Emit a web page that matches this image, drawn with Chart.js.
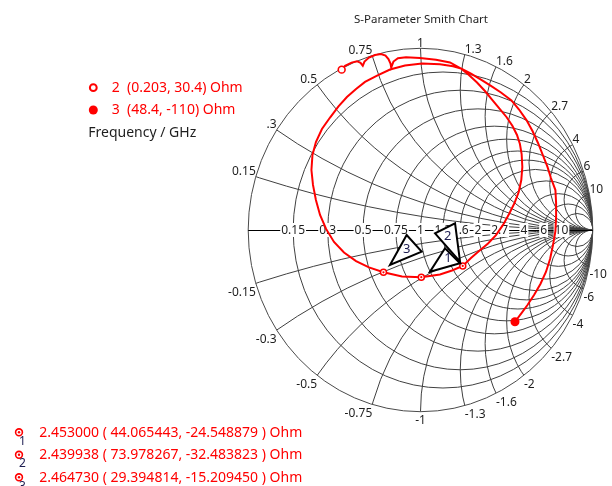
<!DOCTYPE html>
<html>
<head>
<meta charset="utf-8">
<script src="https://cdn.jsdelivr.net/npm/chart.js@4.4.1/dist/chart.umd.min.js"></script>
<style>
  html, body { margin: 0; padding: 0; background: #fff; }
  #wrap { width: 612px; height: 486px; position: relative; }
</style>
</head>
<body>
<div id="wrap"><canvas id="c" width="612" height="486"></canvas></div>
<script>
// Reference impedance
const Z0 = 50;

// Smith grid: constant-resistance circles and constant-reactance arcs (normalised)
const resistanceCircles = [0.15, 0.3, 0.5, 0.75, 1, 1.3, 1.6, 2, 2.7, 4, 6, 10];
const resistanceLabels  = ['0.15', '0.3', '0.5', '0.75', '1', '1.3', '1.6', '2', '2.7', '4', '6', '10'];
const reactanceArcs     = [0.15, 0.3, 0.5, 0.75, 1, 1.3, 1.6, 2, 2.7, 4, 6, 10];
const reactanceLabels   = ['0.15', '0.3', '0.5', '0.75', '1', '1.3', '1.6', '2', '2.7', '4', '6', '10'];

// Swept S11, reflection coefficient (real / imaginary part)
const s11Re = [-0.4575, -0.438, -0.400, -0.369, -0.348, -0.335, -0.325, -0.299, -0.264, -0.229,
  -0.203, -0.186, -0.174, -0.170, -0.157, -0.131, -0.084, -0.003, 0.090, 0.171,
  0.235, 0.281, 0.328, 0.374, 0.415, 0.456, 0.499, 0.534, 0.560, 0.577,
  0.587, 0.591, 0.585, 0.570, 0.546, 0.514, 0.479, 0.438, 0.392, 0.340,
  0.293, 0.2452, 0.183, 0.113, 0.0046, -0.107, -0.215, -0.299, -0.374, -0.444,
  -0.502, -0.548, -0.583, -0.607, -0.624, -0.633, -0.627, -0.607, -0.572, -0.525,
  -0.476, -0.427, -0.374, -0.322, -0.252, -0.177, -0.090, 0.009, 0.113, 0.189,
  0.235, 0.293, 0.351, 0.409, 0.467, 0.528, 0.572, 0.615, 0.650, 0.682,
  0.711, 0.737, 0.757, 0.783, 0.787, 0.787, 0.783, 0.769, 0.752, 0.728,
  0.696, 0.659, 0.621, 0.583, 0.5483];
const s11Im = [0.8826, 0.903, 0.921, 0.929, 0.920, 0.904, 0.927, 0.949, 0.963, 0.968,
  0.960, 0.941, 0.916, 0.894, 0.927, 0.945, 0.951, 0.946, 0.937, 0.922,
  0.889, 0.853, 0.812, 0.765, 0.718, 0.671, 0.622, 0.572, 0.523, 0.473,
  0.418, 0.347, 0.275, 0.209, 0.149, 0.088, 0.028, -0.028, -0.074, -0.116,
  -0.154, -0.1978, -0.223, -0.245, -0.2599, -0.256, -0.2328, -0.206, -0.171, -0.124,
  -0.066, 0.006, 0.083, 0.165, 0.248, 0.330, 0.413, 0.484, 0.556, 0.619,
  0.680, 0.732, 0.776, 0.815, 0.850, 0.883, 0.905, 0.916, 0.912, 0.901,
  0.889, 0.860, 0.828, 0.793, 0.757, 0.713, 0.663, 0.605, 0.545, 0.479,
  0.410, 0.347, 0.286, 0.220, 0.149, 0.072, -0.006, -0.083, -0.160, -0.231,
  -0.297, -0.358, -0.413, -0.462, -0.505];

// Sweep end points (Ohm)
const endpointIds = ['2', '3'];
const endpointR = [0.203, 48.4];
const endpointX = [30.4, -110];

// Markers: frequency (GHz) and impedance (Ohm)
const markerIds = ['1', '2', '3'];
const markerFreqGHz = [2.453000, 2.439938, 2.464730];
const markerR = [44.065443, 73.978267, 29.394814];
const markerX = [-24.548879, -32.483823, -15.209450];

const RED = '#ff0000';
const INK = '#1e1e1e';
const NAVY = '#1c1c50';
const FONT = '"Noto Sans", "DejaVu Sans", sans-serif';

// Z (Ohm) -> reflection coefficient
function ohmToGamma(R, X) {
  const r = R / Z0, x = X / Z0;
  const d = (r + 1) * (r + 1) + x * x;
  return { x: (r * r + x * x - 1) / d, y: (2 * x) / d };
}

const tracePts = s11Re.map((re, i) => ({ x: re, y: s11Im[i] }));
const startPt = ohmToGamma(endpointR[0], endpointX[0]);
const endPt = ohmToGamma(endpointR[1], endpointX[1]);
const markerPts = markerR.map((r, i) => ohmToGamma(r, markerX[i]));

function mappers(chart) {
  const sx = chart.scales.x, sy = chart.scales.y;
  return {
    px: v => sx.getPixelForValue(v),
    py: v => sy.getPixelForValue(v),
    kx: sx.getPixelForValue(1) - sx.getPixelForValue(0),
    ky: sy.getPixelForValue(0) - sy.getPixelForValue(1)
  };
}

// Grid, rim, real axis and scale numbers
const smithGrid = {
  id: 'smithGrid',
  beforeDatasetsDraw(chart) {
    const ctx = chart.ctx;
    const { px, py, kx, ky } = mappers(chart);
    const TAU = Math.PI * 2;

    ctx.save();
    ctx.beginPath();
    ctx.ellipse(px(0), py(0), kx, ky, 0, 0, TAU);
    ctx.clip();
    ctx.strokeStyle = '#404040';
    ctx.lineWidth = 1;
    resistanceCircles.forEach(r => {
      const c = r / (1 + r), rad = 1 / (1 + r);
      ctx.beginPath();
      ctx.ellipse(px(c), py(0), rad * kx, rad * ky, 0, 0, TAU);
      ctx.stroke();
    });
    reactanceArcs.forEach(x => {
      [x, -x].forEach(v => {
        const rad = 1 / Math.abs(v);
        ctx.beginPath();
        ctx.ellipse(px(1), py(1 / v), rad * kx, rad * ky, 0, 0, TAU);
        ctx.stroke();
      });
    });
    ctx.restore();

    // outer rim
    ctx.save();
    ctx.strokeStyle = '#4a4a4a';
    ctx.lineWidth = 1;
    ctx.beginPath();
    ctx.ellipse(px(0), py(0), kx, ky, 0, 0, TAU);
    ctx.stroke();
    // real axis
    ctx.strokeStyle = '#000';
    ctx.beginPath();
    ctx.moveTo(px(-1), Math.round(py(0)) + 0.5);
    ctx.lineTo(px(1), Math.round(py(0)) + 0.5);
    ctx.stroke();

    ctx.font = '12px ' + FONT;
    // resistance numbers on the real axis, on white boxes
    resistanceCircles.forEach((r, i) => {
      const g = (r - 1) / (r + 1);
      const x = px(g), y = py(0);
      const t = resistanceLabels[i];
      const w = ctx.measureText(t).width;
      ctx.fillStyle = '#fff';
      ctx.fillRect(x - w / 2 - 1, y - 7, w + 2, 14);
      ctx.fillStyle = INK;
      ctx.textAlign = 'center';
      ctx.textBaseline = 'middle';
      ctx.fillText(t, x, y + 0.5);
    });
    // reactance numbers around the rim
    reactanceArcs.forEach((xv, i) => {
      [1, -1].forEach(sgn => {
        const v = xv * sgn;
        const gr = (v * v - 1) / (v * v + 1), gi = 2 * v / (v * v + 1);
        const X = px(gr), Y = py(gi);
        const t = (sgn < 0 ? '-' : '') + reactanceLabels[i];
        ctx.textAlign = Math.abs(gr) < 0.01 ? 'center' : (gr < 0 ? 'right' : 'left');
        ctx.textBaseline = 'alphabetic';
        ctx.fillStyle = INK;
        ctx.fillText(t, X, sgn > 0 ? Y - 1.5 : Y + 12.5);
      });
    });
    ctx.restore();
  }
};

// Marker callouts, legends and the title
const annotations = {
  id: 'annotations',
  afterDatasetsDraw(chart) {
    const ctx = chart.ctx;
    const { px, py } = mappers(chart);
    const shapes = {
      '1': { v: [[8.7, -5.5], [38.7, -13.9], [23.7, -28.9]], t: [26.7, -19.2] },
      '2': { v: [[-2.7, -4.2], [-27.7, -32.6], [-7.7, -42.6]], t: [-15, -29.2] },
      '3': { v: [[6.5, -7.3], [23.2, -37.3], [38.2, -20.6]], t: [23.2, -23] }
    };
    ctx.save();
    markerIds.forEach((id, i) => {
      const mx = px(markerPts[i].x), my = py(markerPts[i].y);
      const s = shapes[id];
      ctx.beginPath();
      s.v.forEach((p, k) => (k ? ctx.lineTo : ctx.moveTo).call(ctx, mx + p[0], my + p[1]));
      ctx.closePath();
      ctx.fillStyle = '#fff';
      ctx.fill();
      ctx.strokeStyle = '#000';
      ctx.lineWidth = 2;
      ctx.lineJoin = 'miter';
      ctx.stroke();
      ctx.font = '13px ' + FONT;
      ctx.fillStyle = NAVY;
      ctx.textAlign = 'center';
      ctx.textBaseline = 'middle';
      ctx.fillText(id, mx + s.t[0], my + s.t[1]);
    });
    ctx.restore();
  },
  afterDraw(chart) {
    const ctx = chart.ctx;
    ctx.save();
    // title
    ctx.font = '11.5px ' + FONT;
    ctx.fillStyle = INK;
    ctx.textAlign = 'center';
    ctx.textBaseline = 'middle';
    ctx.fillText('S-Parameter Smith Chart', 421, 19.5);

    // sweep legend box
    ctx.fillStyle = '#fff';
    ctx.fillRect(0, 68, 266, 78);
    ctx.font = '14px ' + FONT;
    ctx.textAlign = 'left';
    ctx.textBaseline = 'middle';
    const rows = [87.7, 110];
    endpointIds.forEach((id, i) => {
      const y = rows[i];
      ctx.beginPath();
      if (i === 0) {
        ctx.arc(93.3, y, 3.4, 0, Math.PI * 2);
        ctx.fillStyle = '#fff';
        ctx.fill();
        ctx.strokeStyle = RED;
        ctx.lineWidth = 2;
        ctx.stroke();
      } else {
        ctx.arc(93.3, y, 4.5, 0, Math.PI * 2);
        ctx.fillStyle = RED;
        ctx.fill();
      }
      ctx.fillStyle = RED;
      ctx.fillText(id + '  (' + endpointR[i] + ', ' + endpointX[i] + ') Ohm', 111.7, y + 0.5);
    });
    ctx.fillStyle = INK;
    ctx.fillText('Frequency / GHz', 88.3, 133);

    // marker readout
    markerIds.forEach((id, i) => {
      const y = 432.3 + i * 22.5;
      ctx.beginPath();
      ctx.arc(19, y, 3.4, 0, Math.PI * 2);
      ctx.fillStyle = '#fff';
      ctx.fill();
      ctx.strokeStyle = RED;
      ctx.lineWidth = 1.6;
      ctx.stroke();
      ctx.beginPath();
      ctx.arc(19, y, 1.2, 0, Math.PI * 2);
      ctx.fillStyle = RED;
      ctx.fill();
      ctx.font = '12px ' + FONT;
      ctx.fillStyle = NAVY;
      ctx.textAlign = 'center';
      ctx.fillText(id, 22.5, y + 9);
      ctx.font = '14px ' + FONT;
      ctx.fillStyle = RED;
      ctx.textAlign = 'left';
      const txt = markerFreqGHz[i].toFixed(6) + ' ( ' + markerR[i].toFixed(6) + ', ' +
        markerX[i].toFixed(6) + ' ) Ohm';
      ctx.fillText(txt, 39.3, y + 0.5);
    });
    ctx.restore();
  }
};

new Chart(document.getElementById('c'), {
  type: 'scatter',
  data: {
    datasets: [
      { label: 'marker dots', data: markerPts, order: 0, pointRadius: 1.1, pointBackgroundColor: RED,
        pointBorderWidth: 0, showLine: false },
      { label: 'markers', data: markerPts, order: 1, pointRadius: 3, pointBackgroundColor: '#fff',
        pointBorderColor: RED, pointBorderWidth: 1.5, showLine: false },
      { label: 'start', data: [startPt], order: 2, pointRadius: 3.4, pointBackgroundColor: '#fff',
        pointBorderColor: RED, pointBorderWidth: 1.6, showLine: false },
      { label: 'end', data: [endPt], order: 3, pointRadius: 4.5, pointBackgroundColor: RED,
        pointBorderWidth: 0, showLine: false },
      { label: 'S11', data: tracePts, order: 4, showLine: true, borderColor: RED, borderWidth: 2,
        pointRadius: 0, tension: 0, fill: false }
    ]
  },
  options: {
    responsive: false,
    animation: false,
    events: [],
    layout: { padding: { left: 248.2, right: 19.2, top: 48.3, bottom: 74.3 } },
    scales: {
      x: { type: 'linear', min: -1, max: 1, display: false },
      y: { type: 'linear', min: -1, max: 1, display: false }
    },
    plugins: { legend: { display: false }, tooltip: { enabled: false }, title: { display: false } }
  },
  plugins: [smithGrid, annotations]
});
</script>
</body>
</html>
